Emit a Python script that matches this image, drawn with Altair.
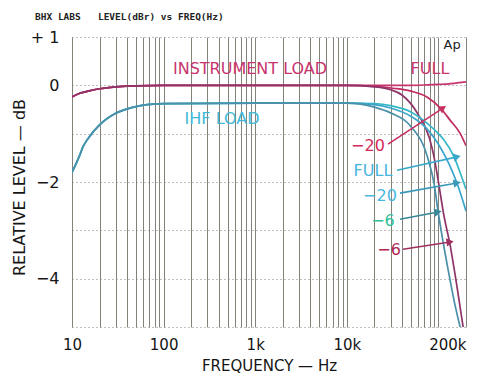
import altair as alt
import pandas as pd
import numpy as np

# ---------------- data ----------------
# shared low-frequency part of the instrument-load curves
inst_lf_freq = [10, 12, 15, 20, 30, 50, 100, 1000, 10000]
inst_lf_db = [-0.24, -0.17, -0.12, -0.07, -0.03, -0.01, 0.0, 0.0, 0.0]

inst_full_freq = [20000, 30000, 50000, 75000, 100000, 130000, 160000, 200000]
inst_full_db = [0.0, 0.0, 0.0, 0.01, 0.02, 0.03, 0.05, 0.07]

inst_m20_freq = [20000, 32000, 50000, 75000, 110000, 134000, 172000, 200000]
inst_m20_db = [-0.02, -0.06, -0.12, -0.24, -0.51, -0.72, -0.99, -1.25]

inst_m6_freq = [20000, 30000, 40000, 60000, 80000, 90000, 100000, 115000, 134000, 159000, 186000, 200000]
inst_m6_db = [-0.03, -0.09, -0.2, -0.6, -1.1, -1.5, -2.0, -2.7, -3.3, -4.15, -5.0, -5.4]

# shared low-frequency part of the IHF-load curves
ihf_lf_freq = [10, 12, 13.2, 15, 20, 30, 46, 77, 100, 1000, 10000]
ihf_lf_db = [-1.8, -1.47, -1.27, -1.1, -0.82, -0.58, -0.455, -0.39, -0.38, -0.37, -0.37]

ihf_full_freq = [20000, 30000, 50000, 75000, 100000, 115000, 150000, 172000, 200000]
ihf_full_db = [-0.38, -0.42, -0.55, -0.78, -1.0, -1.13, -1.5, -1.8, -2.15]

ihf_m20_freq = [20000, 30000, 50000, 75000, 100000, 130000, 160000, 200000]
ihf_m20_db = [-0.4, -0.47, -0.64, -0.9, -1.22, -1.62, -2.03, -2.6]

ihf_m6_freq = [20000, 30000, 50000, 75000, 90000, 99000, 128000, 150000, 175000, 200000]
ihf_m6_db = [-0.45, -0.57, -0.85, -1.45, -2.05, -2.6, -3.83, -4.5, -5.05, -5.5]

curve_names = ["inst_full", "inst_m20", "inst_m6", "ihf_full", "ihf_m20", "ihf_m6"]
curve_colors = ["#c8346e", "#c02c60", "#8e3468", "#34b8c8", "#3aa6cc", "#4a90a8"]

# annotation labels: text, freq, dB, colour
ann_text = ["INSTRUMENT LOAD", "FULL", "IHF LOAD", "\u221220", "FULL", "\u221220", "\u22126", "\u22126", "Ap"]
ann_freq = [877, 80900, 435, 17000, 19300, 23000, 24800, 28900, 141000]
ann_db = [0.34, 0.34, -0.70, -1.26, -1.77, -2.29, -2.81, -3.41, 0.83]
ann_color = ["#c8346e", "#c8346e", "#40b8d8", "#d42a5a", "#48b4e0", "#48b8e0", "#30c098", "#b02850", "#222222"]
ann_size = [16, 16, 16, 16, 16, 16, 16, 16, 13]

# arrows: tail freq/dB -> head freq/dB
arr_f1 = [28200, 35300, 38100, 38100, 41100]
arr_d1 = [-1.215, -1.756, -2.23, -2.77, -3.39]
arr_f2 = [112000, 160000, 160000, 99000, 134000]
arr_d2 = [-0.47, -1.48, -2.02, -2.62, -3.24]
arr_color = ["#c83060", "#3aa8c8", "#3a98b8", "#3a8898", "#a03060"]

x_label_vals = [10, 100, 1000, 10000, 200000]
x_label_txt = ["10", "100", "1k", "10k", "200k"]
y_label_vals = [1, 0, -2, -4]
y_label_txt = ["+ 1", "0", "\u22122", "\u22124"]

header = "BHX LABS\u00a0\u00a0\u00a0LEVEL(dBr)\u00a0vs\u00a0FREQ(Hz)"

# ---------------- layout ----------------
W, H = 394, 290
XMIN, XMAX = 10, 200000
YMIN, YMAX = -5, 1

grid_freqs = [m * 10 ** e for e in range(1, 5) for m in range(1, 10)] + [100000, 200000]

rows = []
parts = [
    (inst_lf_freq, inst_lf_db, inst_full_freq, inst_full_db),
    (inst_lf_freq, inst_lf_db, inst_m20_freq, inst_m20_db),
    (inst_lf_freq, inst_lf_db, inst_m6_freq, inst_m6_db),
    (ihf_lf_freq, ihf_lf_db, ihf_full_freq, ihf_full_db),
    (ihf_lf_freq, ihf_lf_db, ihf_m20_freq, ihf_m20_db),
    (ihf_lf_freq, ihf_lf_db, ihf_m6_freq, ihf_m6_db),
]
for name, (lf, ld, hf, hd) in zip(curve_names, parts):
    for i, (f, d) in enumerate(zip(lf + hf, ld + hd)):
        rows.append({"curve": name, "freq": f, "db": d, "i": i})
curves = pd.DataFrame(rows)


def label_expr(vals, txts):
    s = "''"
    for v, t in zip(reversed(vals), reversed(txts)):
        s = f"datum.value == {v} ? '{t}' : ({s})"
    return s


xscale = alt.Scale(type="log", domain=[XMIN, XMAX], nice=False)
yscale = alt.Scale(domain=[YMIN, YMAX], nice=False)

XT = "FREQUENCY \u2014 Hz"
YT = "RELATIVE LEVEL \u2014 dB"

x_axis = alt.Axis(
    values=grid_freqs, labelExpr=label_expr(x_label_vals, x_label_txt), labelOverlap=False, labelBound=False,
    grid=True, gridColor="#74746a", gridWidth=1, gridOpacity=0.9,
    domain=False, ticks=False, labelPadding=10, labelFontSize=15,
    labelAlign=alt.ExprRef("datum.value == 200000 ? 'right' : 'center'"),
    title=XT, titleFontSize=15, titleFontWeight="normal",
    titleY=43, titleBaseline="alphabetic",
)
y_axis = alt.Axis(
    values=[-5, -4, -3, -2, -1, 0, 1], labelExpr=label_expr(y_label_vals, y_label_txt),
    grid=True, gridColor="#808078", gridDash=[1, 3], gridWidth=1,
    domain=False, ticks=False, labelPadding=13, labelFontSize=16,
    title=YT, titleFontSize=16, titleFontWeight="normal",
    titleX=-53, titleY=150, titleAlign="center", titleBaseline="middle",
)


def X(field="freq"):
    return alt.X(f"{field}:Q", scale=xscale, axis=x_axis, title=XT)


def Y(field="db"):
    return alt.Y(f"{field}:Q", scale=yscale, axis=y_axis, title=YT)


lines = alt.Chart(curves).mark_line(clip=True, strokeWidth=1.7, interpolate="monotone").encode(
    x=X(), y=Y(),
    color=alt.Color("curve:N", scale=alt.Scale(domain=curve_names, range=curve_colors), legend=None),
    detail="curve:N",
    order="i:Q",
)


def to_px(f, d):
    return ((np.log10(f) - np.log10(XMIN)) / (np.log10(XMAX) - np.log10(XMIN)) * W,
            (YMAX - d) / (YMAX - YMIN) * H)


angles = []
for f1, d1, f2, d2 in zip(arr_f1, arr_d1, arr_f2, arr_d2):
    x1, y1 = to_px(f1, d1)
    x2, y2 = to_px(f2, d2)
    angles.append(float(np.degrees(np.arctan2(y2 - y1, x2 - x1)) % 360))

shaft_df = pd.DataFrame({"freq": arr_f1, "db": arr_d1, "freq2": arr_f2, "db2": arr_d2, "c": arr_color})
head_df = pd.DataFrame({"freq": arr_f2, "db": arr_d2, "c": arr_color, "ang": angles})

shafts = alt.Chart(shaft_df).mark_rule(strokeWidth=1.6).encode(
    x=X(), y=Y(), x2="freq2:Q", y2="db2:Q", color=alt.Color("c:N", scale=None),
)
heads = alt.Chart(head_df).mark_point(shape="triangle-right", filled=True, size=70, opacity=1).encode(
    x=X(), y=Y(), color=alt.Color("c:N", scale=None), angle=alt.Angle("ang:Q", scale=None),
)

ann = pd.DataFrame({"t": ann_text, "freq": ann_freq, "db": ann_db, "c": ann_color, "s": ann_size})
labels = alt.Chart(ann).mark_text(font="DejaVu Sans", align="center", baseline="middle").encode(
    x=X(), y=Y(), text="t:N", color=alt.Color("c:N", scale=None), size=alt.Size("s:Q", scale=None),
)

head_txt = alt.Chart(pd.DataFrame({"t": [header]})).mark_text(
    font="DejaVu Sans Mono", fontWeight="bold", fontSize=9.5, align="left", baseline="middle", color="#222"
).encode(text="t:N", x=alt.value(-37), y=alt.value(-20))

chart = alt.layer(lines, shafts, heads, labels, head_txt).properties(
    width=W, height=H,
    padding={"left": 64, "top": 29, "right": 8, "bottom": 48},
    autosize=alt.AutoSizeParams(type="none"),
    background="white",
).configure_view(stroke=None).configure_axis(
    labelFont="DejaVu Sans", titleFont="DejaVu Sans", labelColor="#151515", titleColor="#151515",
)

chart.save("out.html", embed_options={"renderer": "svg", "actions": False})
